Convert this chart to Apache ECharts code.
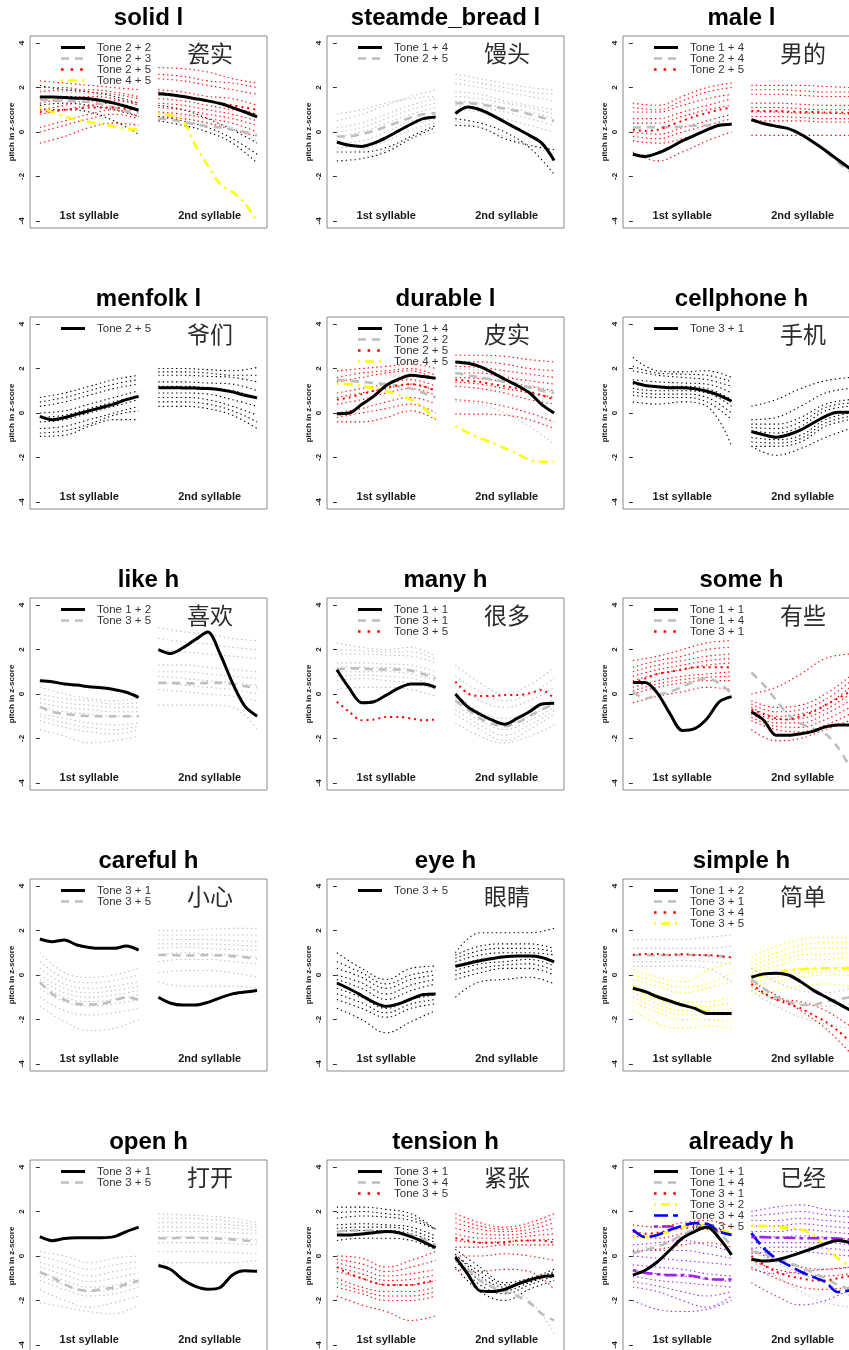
<!DOCTYPE html>
<html>
<head>
<meta charset="utf-8">
<title>tone pitch contours</title>
<script src="https://cdn.jsdelivr.net/npm/echarts@6/dist/echarts.min.js"></script>
<style>
  html, body { margin: 0; padding: 0; background: #fff; }
  #main { width: 849px; height: 1350px; }
</style>
</head>
<body>
<div id="main"></div>
<script>
// ---- panel labels ----
var panelTitles = ['solid l', 'steamde_bread l', 'male l', 'menfolk l', 'durable l', 'cellphone h',
  'like h', 'many h', 'some h', 'careful h', 'eye h', 'simple h', 'open h', 'tension h', 'already h'];
var panelHanzi = ['瓷实', '馒头', '男的', '爷们', '皮实', '手机', '喜欢', '很多', '有些', '小心', '眼睛', '简单', '打开', '紧张', '已经'];
var yTicks = [-4, -2, 0, 2, 4];

// ---- per panel data: tones, mean contours [1st syll, 2nd syll], token contours ----
var solidTones = ['Tone 2 + 2', 'Tone 2 + 3', 'Tone 2 + 5', 'Tone 4 + 5'];
var solidMean = [
  [[1.58,1.57,1.55,1.52,1.5,1.42,1.3,1.15,0.98], [1.72,1.68,1.6,1.5,1.4,1.28,1.1,0.9,0.68]],
  [[1.45,1.42,1.4,1.38,1.35,1.25,1.1,0.95,0.85], [0.6,0.55,0.45,0.35,0.25,0.2,0.1,0.0,-0.15]],
  [[0.9,0.95,1.0,1.05,1.1,1.1,1.1,1.05,1.0], [1.7,1.65,1.6,1.5,1.4,1.3,1.2,1.1,1.0]],
  [[1.1,0.9,0.7,0.55,0.45,0.35,0.25,0.15,0.1], [0.83,0.75,0.5,-0.6,-1.5,-2.35,-2.7,-3.2,-4.05]]
];
var solidTokens = [
  [[[2.1,1.9,1.8,1.6,1.3],[1.6,1.6,1.5,1.3,1.0],[1.2,1.3,1.2,1.0,0.7],[1.0,1.0,0.9,0.5,-0.1]],
   [[1.8,1.6,1.4,1.1,0.8],[1.2,1.0,0.6,0.1,-0.5],[0.7,0.5,0.2,-0.3,-1.0],[0.5,0.3,0.0,-0.5,-1.4]]],
  [[[1.9,1.8,1.7,1.5,1.2]], [[0.9,0.7,0.4,0.2,-0.4]]],
  [[[2.3,2.2,2.1,2.0,1.9],[2.0,2.0,1.8,1.7,1.5],[1.8,1.9,1.9,1.8,1.6],[1.3,1.5,1.6,1.5,1.2],[1.0,1.2,1.4,1.4,1.3],[0.8,1.0,1.2,1.3,1.0],[0.2,0.5,0.8,1.0,0.7],[0.0,0.3,0.6,0.8,0.6],[-0.5,-0.2,0.2,0.4,0.3]],
   [[2.9,2.85,2.7,2.4,2.2],[2.6,2.5,2.3,2.2,2.0],[2.4,2.3,2.1,1.9,1.7],[1.9,1.8,1.6,1.5,1.2],[1.5,1.4,1.2,1.0,0.8],[1.3,1.2,1.0,0.8,0.5],[1.1,1.0,0.8,0.6,0.3],[0.9,0.8,0.6,0.4,0.0],[0.7,0.6,0.4,0.1,-0.2]]],
  [[], []]
];

var steamedTones = ['Tone 1 + 4', 'Tone 2 + 5'];
var steamedMean = [
  [[-0.45,-0.6,-0.65,-0.5,-0.25,0.05,0.35,0.6,0.68], [0.83,1.12,1.0,0.75,0.45,0.15,-0.15,-0.5,-1.28]],
  [[-0.2,-0.2,-0.1,0.05,0.25,0.45,0.65,0.8,0.85], [1.3,1.3,1.25,1.15,1.05,0.95,0.8,0.65,0.5]]
];
var steamedTokens = [
  [[[-0.9,-0.9,-0.7,-0.2,0.3],[-1.3,-1.2,-0.9,-0.3,0.2]], [[0.3,0.2,-0.3,-0.6,-0.8],[0.6,0.4,0.0,-0.7,-1.9]]],
  [[[0.5,0.8,1.2,1.6,1.9],[0.8,1.0,1.3,1.5,1.6],[0.2,0.4,0.8,1.2,1.5],[0.0,0.2,0.6,1.0,1.3],[-0.2,0.0,0.4,0.8,1.1],[-0.5,-0.4,0.0,0.5,0.7],[-0.7,-0.6,-0.2,0.3,0.6],[-0.9,-0.8,-0.4,0.1,0.4],[-1.35,-1.2,-0.8,-0.3,0.0]],
   [[2.6,2.4,2.2,2.0,1.9],[2.4,2.2,2.0,1.8,1.7],[2.2,2.0,1.8,1.6,1.4],[1.8,1.7,1.4,1.2,1.0],[1.6,1.5,1.3,1.1,0.8],[1.4,1.3,1.1,0.9,0.6],[1.2,1.1,0.9,0.6,0.3],[1.0,0.9,0.6,0.3,0.0],[0.5,0.2,-0.2,-0.6,-1.0]]]
];

var maleTones = ['Tone 1 + 4', 'Tone 2 + 4', 'Tone 2 + 5'];
var maleMean = [
  [[-1.0,-1.1,-0.95,-0.7,-0.4,-0.15,0.1,0.3,0.35], [0.56,0.38,0.26,0.15,-0.1,-0.45,-0.83,-1.25,-1.65]],
  [[0.2,0.22,0.22,0.22,0.25,0.28,0.3,0.33,0.35], [0.55,0.4,0.28,0.15,-0.1,-0.45,-0.85,-1.35,-1.8]],
  [[0.1,0.05,0.1,0.3,0.5,0.7,0.85,1.0,1.1], [0.95,0.95,0.95,0.92,0.9,0.9,0.88,0.88,0.85]]
];
var maleTokens = [
  [[], []],
  [[], []],
  [[[1.3,1.2,1.6,2.0,2.2],[1.1,1.0,1.4,1.8,2.0],[0.9,0.9,1.2,1.5,1.7],[0.6,0.6,0.9,1.2,1.5],[0.4,0.4,0.7,1.0,1.2],[0.0,-0.1,0.2,0.5,0.8],[-0.2,-0.3,0.0,0.3,0.6],[-0.4,-0.5,-0.3,0.1,0.4],[-0.9,-1.3,-0.9,-0.4,0.0]],
   [[2.1,2.1,2.1,2.05,2.0],[1.9,1.9,1.85,1.8,1.8],[1.7,1.7,1.65,1.6,1.6],[1.3,1.3,1.25,1.2,1.2],[1.1,1.1,1.05,1.0,1.0],[0.9,0.9,0.85,0.85,0.8],[0.7,0.7,0.65,0.6,0.6],[0.5,0.5,0.5,0.45,0.45],[-0.15,-0.15,-0.15,-0.15,-0.15]]]
];

var menfolkTones = ['Tone 2 + 5'];
var menfolkMean = [
  [[-0.15,-0.3,-0.2,-0.05,0.1,0.25,0.4,0.6,0.75], [1.14,1.14,1.13,1.12,1.1,1.05,0.95,0.8,0.68]]
];
var menfolkTokens = [
  [[[0.7,0.9,1.2,1.5,1.7],[0.5,0.7,1.0,1.3,1.5],[0.3,0.5,0.8,1.1,1.3],[0.0,0.1,0.4,0.7,1.0],[-0.2,-0.1,0.2,0.5,0.8],[-0.4,-0.3,0.0,0.3,0.6],[-0.7,-0.6,-0.3,0.0,0.3],[-0.9,-0.8,-0.5,-0.1,0.1],[-1.05,-1.0,-0.6,-0.3,-0.3]],
   [[2.0,2.0,1.95,1.9,2.05],[1.85,1.85,1.8,1.7,1.7],[1.7,1.7,1.65,1.6,1.4],[1.4,1.4,1.35,1.3,1.0],[1.2,1.2,1.15,1.0,0.7],[0.9,0.9,0.85,0.6,0.3],[0.7,0.7,0.6,0.3,-0.1],[0.5,0.5,0.4,0.1,-0.4],[0.3,0.3,0.2,-0.1,-0.7]]]
];

var durableTones = ['Tone 1 + 4', 'Tone 2 + 2', 'Tone 2 + 5', 'Tone 4 + 5'];
var durableMean = [
  [[-0.03,0.0,0.38,0.76,1.24,1.52,1.7,1.64,1.56], [2.3,2.24,2.09,1.82,1.52,1.24,0.91,0.38,0.0]],
  [[1.5,1.45,1.4,1.35,1.3,1.2,1.1,0.9,0.7], [1.8,1.7,1.6,1.5,1.4,1.3,1.15,1.0,0.9]],
  [[0.6,0.7,0.85,1.0,1.15,1.25,1.3,1.2,1.0], [1.5,1.45,1.4,1.3,1.2,1.1,0.95,0.8,0.6]],
  [[1.33,1.3,1.22,1.12,0.98,0.82,0.6,0.23,-0.27], [-0.6,-0.88,-1.14,-1.33,-1.59,-1.82,-2.12,-2.2,-2.2]]
];
var durableTokens = [
  [[], []],
  [[[1.9,1.8,1.7,1.5,1.0]], [[2.0,1.9,1.7,1.3,0.9],[0.5,0.4,0.0,-0.6,-1.4]]],
  [[[1.9,2.0,2.1,2.2,2.0],[1.6,1.8,1.9,2.0,1.7],[1.4,1.6,1.8,1.9,1.5],[0.9,1.1,1.3,1.5,1.2],[0.7,0.9,1.1,1.3,1.0],[0.4,0.6,0.9,1.1,0.8],[0.0,0.2,0.5,0.7,0.4],[-0.2,0.0,0.2,0.4,0.0],[-0.4,-0.4,-0.2,0.1,-0.3]],
   [[2.6,2.6,2.55,2.4,2.3],[2.3,2.3,2.2,2.0,1.9],[2.1,2.05,1.9,1.75,1.6],[1.8,1.8,1.6,1.45,1.3],[1.6,1.55,1.4,1.2,1.0],[1.4,1.3,1.1,0.9,0.7],[1.2,1.1,0.9,0.6,0.4],[0.6,0.5,0.3,0.0,-0.4],[-0.05,-0.05,-0.1,-0.3,-0.7]]],
  [[], []]
];

var cellphoneTones = ['Tone 3 + 1'];
var cellphoneMean = [
  [[1.39,1.24,1.18,1.14,1.14,1.09,0.98,0.79,0.53], [-0.83,-0.98,-1.09,-0.98,-0.76,-0.45,-0.15,0.03,0.03]]
];
var cellphoneTokens = [
  [[[2.5,1.9,1.85,1.9,1.6],[2.1,1.8,1.75,1.7,1.4],[1.9,1.7,1.6,1.5,1.2],[1.5,1.4,1.35,1.3,0.9],[1.3,1.2,1.2,1.1,0.6],[1.1,1.0,1.0,0.9,0.3],[0.95,0.85,0.85,0.7,0.0],[0.8,0.7,0.7,0.5,-0.3],[0.5,0.4,0.5,0.3,-1.5]],
   [[0.3,0.6,1.1,1.45,1.6],[-0.3,-0.2,0.3,0.9,1.1],[-0.5,-0.5,-0.2,0.4,0.6],[-0.65,-0.7,-0.4,0.25,0.45],[-0.8,-0.9,-0.6,0.1,0.3],[-1.1,-1.2,-1.0,-0.3,0.0],[-1.3,-1.35,-1.15,-0.45,-0.15],[-1.5,-1.5,-1.3,-0.6,-0.3],[-1.5,-1.9,-1.6,-1.1,-0.7]]]
];

var likeTones = ['Tone 1 + 2', 'Tone 3 + 5'];
var likeMean = [
  [[0.6,0.55,0.45,0.4,0.33,0.28,0.2,0.08,-0.15], [2.0,1.82,2.08,2.45,2.79,1.8,0.5,-0.55,-1.0]],
  [[-0.58,-0.8,-0.9,-0.95,-1.0,-1.0,-1.0,-1.0,-1.0], [0.5,0.5,0.48,0.48,0.5,0.5,0.45,0.35,0.3]]
];
var likeTokens = [
  [[], []],
  [[[0.3,0.0,-0.2,-0.3,-0.2],[0.0,-0.2,-0.3,-0.45,-0.4],[-0.2,-0.4,-0.5,-0.6,-0.6],[-0.4,-0.6,-0.7,-0.8,-0.8],[-0.6,-0.8,-0.9,-1.0,-1.0],[-0.9,-1.1,-1.3,-1.4,-1.3],[-1.0,-1.3,-1.5,-1.6,-1.45],[-1.2,-1.5,-1.7,-1.8,-1.6],[-1.6,-1.9,-2.2,-2.1,-1.9]],
   [[3.0,2.8,2.7,2.5,2.4],[2.5,2.35,2.25,2.1,2.0],[2.0,1.9,1.8,1.7,1.6],[1.3,1.3,1.2,1.1,1.0],[1.0,1.0,0.9,0.8,0.7],[0.8,0.7,0.6,0.5,0.4],[0.5,0.4,0.3,0.2,0.0],[0.2,0.1,0.0,-0.1,-0.3],[-0.5,-0.5,-0.5,-0.6,-1.6]]]
];

var manyTones = ['Tone 1 + 1', 'Tone 3 + 1', 'Tone 3 + 5'];
var manyMean = [
  [[1.09,0.26,-0.39,-0.35,-0.05,0.26,0.45,0.45,0.3], [0.0,-0.58,-0.91,-1.18,-1.36,-1.1,-0.8,-0.45,-0.42]],
  [[1.1,1.15,1.15,1.1,1.1,1.1,1.05,0.9,0.7], [-0.3,-0.7,-1.1,-1.35,-1.45,-1.3,-1.0,-0.7,-0.45]],
  [[-0.35,-0.8,-1.18,-1.15,-1.03,-1.03,-1.1,-1.18,-1.15], [0.56,0.03,-0.09,-0.09,-0.05,-0.05,0.03,0.18,-0.2]]
];
var manyTokens = [
  [[], []],
  [[[2.3,2.1,2.0,2.1,1.7],[2.0,1.95,1.9,1.9,1.55],[1.8,1.8,1.75,1.7,1.4],[1.4,1.4,1.35,1.3,1.0],[1.2,1.2,1.2,1.1,0.8],[1.0,1.0,1.0,0.9,0.6],[0.8,0.85,0.8,0.7,0.4],[0.6,0.7,0.6,0.5,0.2],[0.2,0.3,0.3,0.2,-0.1]],
   [[1.3,0.5,0.0,0.4,1.2],[0.8,0.1,-0.3,0.0,0.7],[0.4,-0.3,-0.6,-0.3,0.3],[0.0,-0.8,-1.1,-0.8,-0.2],[-0.2,-1.0,-1.35,-1.0,-0.4],[-0.5,-1.2,-1.6,-1.2,-0.6],[-0.7,-1.4,-1.85,-1.4,-0.75],[-0.9,-1.6,-2.1,-1.6,-0.9],[-1.3,-1.9,-2.2,-1.9,-1.4]]],
  [[], []]
];

var someTones = ['Tone 1 + 1', 'Tone 1 + 4', 'Tone 3 + 1'];
var someMean = [
  [[0.52,0.52,0.03,-0.88,-1.64,-1.56,-1.11,-0.35,-0.12], [-0.8,-1.18,-1.86,-1.86,-1.79,-1.68,-1.48,-1.4,-1.4]],
  [[0.1,-0.2,-0.05,0.1,0.33,0.56,0.71,0.48,0.03], [0.97,0.41,-0.27,-0.95,-1.33,-1.56,-1.79,-2.4,-3.3]],
  [[0.5,0.7,0.9,1.0,1.1,1.2,1.2,1.2,1.2], [-0.7,-0.9,-1.1,-1.15,-1.0,-0.8,-0.5,-0.2,0.1]]
];
var someTokens = [
  [[], []],
  [[], []],
  [[[1.5,1.7,2.0,2.3,2.4],[1.2,1.5,1.7,2.0,2.1],[1.0,1.3,1.5,1.7,1.8],[0.8,1.1,1.3,1.5,1.6],[0.6,0.9,1.1,1.3,1.4],[0.3,0.6,0.8,0.9,1.0],[0.15,0.45,0.65,0.75,0.8],[0.0,0.3,0.5,0.6,0.6],[-0.4,-0.1,0.1,0.3,0.2]],
   [[0.0,0.3,0.9,1.6,1.8],[-0.3,-0.6,-0.5,0.0,0.8],[-0.45,-0.8,-0.7,-0.25,0.55],[-0.6,-1.0,-0.9,-0.5,0.3],[-0.75,-1.15,-1.1,-0.7,0.0],[-0.9,-1.3,-1.3,-0.9,-0.3],[-1.05,-1.45,-1.5,-1.15,-0.6],[-1.2,-1.6,-1.7,-1.4,-0.9],[-1.6,-2.1,-2.0,-1.6,-1.2]]]
];

var carefulTones = ['Tone 3 + 1', 'Tone 3 + 5'];
var carefulMean = [
  [[1.62,1.5,1.58,1.35,1.24,1.2,1.2,1.3,1.12], [-1.0,-1.27,-1.35,-1.35,-1.23,-1.03,-0.85,-0.77,-0.7]],
  [[-0.32,-0.85,-1.12,-1.3,-1.33,-1.3,-1.15,-1.0,-1.12], [0.9,0.9,0.88,0.88,0.9,0.88,0.85,0.8,0.72]]
];
var carefulTokens = [
  [[], []],
  [[[1.0,0.1,-0.1,0.0,0.3],[0.6,-0.15,-0.35,-0.25,0.0],[0.3,-0.4,-0.6,-0.5,-0.3],[0.0,-0.6,-0.8,-0.7,-0.5],[-0.2,-0.8,-1.0,-0.9,-0.7],[-0.4,-1.0,-1.2,-1.1,-0.9],[-0.6,-1.2,-1.4,-1.3,-1.1],[-1.0,-1.6,-1.8,-1.7,-1.5],[-1.4,-2.1,-2.5,-2.4,-2.0]],
   [[2.0,2.0,2.05,2.1,2.1],[1.8,1.8,1.8,1.8,1.8],[1.6,1.6,1.6,1.55,1.5],[1.4,1.4,1.4,1.35,1.3],[1.2,1.25,1.2,1.15,1.1],[0.9,1.0,0.95,0.9,0.8],[0.6,0.7,0.7,0.6,0.5],[0.1,0.2,0.2,0.1,-0.1],[-0.3,-0.5,-0.5,-0.5,-0.6]]]
];

var eyeTones = ['Tone 3 + 5'];
var eyeMean = [
  [[-0.36,-0.62,-0.92,-1.23,-1.41,-1.3,-1.08,-0.88,-0.85], [0.39,0.52,0.64,0.74,0.82,0.85,0.85,0.79,0.59]]
];
var eyeTokens = [
  [[[1.0,0.3,-0.2,0.3,0.4],[0.6,0.1,-0.4,0.0,0.2],[0.3,-0.1,-0.6,-0.2,0.0],[0.0,-0.35,-0.85,-0.45,-0.2],[-0.2,-0.6,-1.1,-0.7,-0.4],[-0.6,-1.0,-1.5,-1.1,-0.9],[-0.85,-1.25,-1.7,-1.3,-1.1],[-1.1,-1.5,-1.9,-1.5,-1.3],[-1.5,-2.0,-2.6,-2.1,-1.6]],
   [[1.0,1.9,1.9,1.9,2.1],[0.9,1.3,1.4,1.4,1.2],[0.75,1.1,1.2,1.2,1.05],[0.6,0.9,1.0,1.0,0.9],[0.4,0.7,0.8,0.85,0.65],[0.2,0.5,0.6,0.7,0.4],[0.0,0.3,0.45,0.5,0.2],[-0.2,0.1,0.3,0.3,0.0],[-1.0,-0.3,-0.2,-0.1,-0.4]]]
];

var simpleTones = ['Tone 1 + 2', 'Tone 3 + 1', 'Tone 3 + 4', 'Tone 3 + 5'];
var simpleMean = [
  [[-0.6,-0.75,-0.98,-1.17,-1.35,-1.5,-1.73,-1.73,-1.73], [-0.1,0.05,0.08,0.0,-0.3,-0.68,-0.98,-1.28,-1.58]],
  [[0.9,0.9,0.88,0.9,0.9,0.9,0.88,0.85,0.75], [-0.2,-0.6,-1.0,-1.2,-1.35,-1.35,-1.2,-1.1,-1.0]],
  [[0.9,0.95,0.95,0.9,0.95,0.9,0.9,0.85,0.8], [-0.4,-0.8,-1.1,-1.3,-1.5,-1.8,-2.1,-2.5,-3.0]],
  [[-0.5,-0.8,-1.0,-1.2,-1.35,-1.5,-1.65,-1.75,-1.75], [-0.1,0.0,0.1,0.2,0.25,0.3,0.3,0.3,0.3]]
];
var simpleTokens = [
  [[], []],
  [[[1.6,1.6,1.6,1.7,1.8],[1.2,1.2,1.2,1.2,1.3],[0.6,0.6,0.65,0.6,0.5],[0.4,0.4,0.4,0.3,-0.3]],
   [[0.3,-0.3,-0.7,-0.8,-0.6],[-0.3,-0.9,-1.3,-1.4,-1.3],[-0.7,-1.4,-1.9,-2.2,-2.4]]],
  [[], [[-0.3,-0.9,-1.6,-2.4,-3.5],[-0.5,-1.1,-1.2,-1.6,-2.3]]],
  [[[0.2,-0.1,-0.3,0.2,0.6],[0.0,-0.3,-0.55,-0.4,0.1],[-0.2,-0.5,-0.8,-0.6,-0.3],[-0.5,-0.9,-1.2,-1.2,-1.0],[-0.65,-1.1,-1.4,-1.4,-1.25],[-0.8,-1.3,-1.6,-1.6,-1.5],[-1.0,-1.5,-1.8,-1.8,-1.8],[-1.2,-1.7,-2.0,-2.0,-2.1],[-1.6,-2.2,-2.4,-2.3,-2.4]],
   [[0.8,1.3,1.6,1.7,1.7],[0.6,1.0,1.35,1.45,1.45],[0.4,0.8,1.1,1.2,1.2],[0.25,0.6,0.9,0.95,1.0],[0.1,0.4,0.7,0.7,0.8],[-0.2,0.1,0.3,0.3,0.4],[-0.35,-0.1,0.1,0.15,0.2],[-0.5,-0.3,-0.1,0.0,0.0],[-0.9,-0.7,-0.5,-0.4,-0.5]]]
];

var openTones = ['Tone 3 + 1', 'Tone 3 + 5'];
var openMean = [
  [[0.87,0.69,0.79,0.82,0.82,0.82,0.87,1.1,1.3], [-0.43,-0.61,-1.07,-1.37,-1.5,-1.42,-0.85,-0.66,-0.69]],
  [[-0.73,-0.96,-1.27,-1.5,-1.57,-1.5,-1.42,-1.27,-1.11], [0.8,0.8,0.82,0.82,0.8,0.78,0.75,0.7,0.65]]
];
var openTokens = [
  [[], []],
  [[[0.2,0.0,-0.3,-0.1,0.0],[0.0,-0.3,-0.6,-0.4,-0.25],[-0.3,-0.6,-0.9,-0.7,-0.5],[-0.5,-0.85,-1.15,-1.0,-0.75],[-0.7,-1.1,-1.4,-1.3,-1.0],[-0.9,-1.3,-1.6,-1.5,-1.2],[-1.1,-1.5,-1.8,-1.7,-1.4],[-1.5,-2.0,-2.3,-2.1,-1.8],[-2.1,-2.3,-2.5,-2.6,-2.2]],
   [[1.9,1.85,1.8,1.7,1.5],[1.7,1.7,1.65,1.55,1.4],[1.5,1.5,1.45,1.4,1.3],[1.3,1.3,1.3,1.25,1.15],[1.1,1.1,1.1,1.05,1.0],[0.85,0.85,0.85,0.8,0.75],[0.6,0.6,0.6,0.55,0.5],[0.2,0.2,0.2,0.15,0.1],[-0.3,-0.3,-0.3,-0.3,-0.2]]]
];

var tensionTones = ['Tone 3 + 1', 'Tone 3 + 4', 'Tone 3 + 5'];
var tensionMean = [
  [[0.95,0.95,0.99,1.05,1.1,1.05,0.87,0.64,0.38], [-0.05,-0.81,-1.57,-1.6,-1.5,-1.27,-1.08,-0.93,-0.89]],
  [[1.1,1.15,1.15,1.15,1.1,1.05,0.95,0.75,0.5], [-0.2,-0.6,-1.1,-1.4,-1.6,-1.8,-2.1,-2.6,-2.9]],
  [[-0.5,-0.8,-1.0,-1.2,-1.3,-1.3,-1.3,-1.2,-1.1], [0.8,0.7,0.6,0.6,0.6,0.7,0.7,0.7,0.6]]
];
var tensionTokens = [
  [[[2.2,2.2,2.1,1.9,1.2],[1.95,2.0,1.9,1.75,1.2],[1.7,1.8,1.75,1.6,1.2],[1.4,1.45,1.4,1.3,0.9],[1.25,1.3,1.3,1.15,0.75],[1.1,1.15,1.15,1.0,0.6],[0.7,0.8,0.8,0.7,0.3]],
   [[0.1,-0.9,-1.4,-1.1,-0.7],[-0.1,-1.1,-1.55,-1.2,-0.8],[-0.2,-1.3,-1.7,-1.3,-0.9],[-0.5,-1.6,-2.0,-1.5,-1.1],[0.0,-0.7,-1.3,-1.15,-0.75],[0.3,-0.5,-1.2,-1.0,-0.6]]],
  [[], [[0.0,-1.0,-1.5,-2.0,-3.5]]],
  [[[0.0,-0.1,-0.5,-0.2,0.2],[-0.15,-0.35,-0.7,-0.5,-0.2],[-0.3,-0.6,-0.9,-0.8,-0.6],[-0.5,-0.8,-1.1,-1.05,-0.85],[-0.7,-1.0,-1.3,-1.3,-1.1],[-1.0,-1.4,-1.6,-1.6,-1.4],[-1.2,-1.55,-1.8,-1.8,-1.6],[-1.4,-1.7,-2.0,-2.0,-1.8],[-1.8,-2.2,-2.5,-2.9,-2.7]],
   [[1.9,1.5,1.3,1.5,1.9],[1.7,1.35,1.2,1.35,1.7],[1.5,1.2,1.1,1.2,1.5],[1.25,1.0,0.95,1.05,1.25],[1.0,0.8,0.8,0.9,1.0],[0.7,0.6,0.65,0.7,0.75],[0.4,0.4,0.5,0.5,0.5],[0.0,0.0,0.1,0.0,-0.2],[-0.6,-0.7,-0.6,-0.7,-1.5]]]
];

var alreadyTones = ['Tone 1 + 1', 'Tone 1 + 4', 'Tone 3 + 1', 'Tone 3 + 2', 'Tone 3 + 4', 'Tone 3 + 5'];
var alreadyMean = [
  [[-0.86,-0.64,-0.26,0.27,0.8,1.1,1.3,0.8,0.05], [-0.15,-0.23,-0.18,-0.03,0.15,0.35,0.55,0.7,0.6]],
  [[0.12,0.27,0.42,0.65,0.95,1.18,1.26,1.03,0.42], [0.2,0.1,-0.1,-0.3,-0.5,-0.75,-1.0,-1.3,-1.5]],
  [[1.1,1.0,1.05,1.15,1.25,1.3,1.25,1.1,0.95], [0.0,-0.4,-0.7,-0.9,-1.0,-1.1,-1.1,-1.0,-0.9]],
  [[0.85,0.85,0.95,1.1,1.3,1.4,1.35,1.2,1.0], [1.36,1.35,1.3,1.27,1.2,0.95,0.4,-0.1,-0.5]],
  [[1.18,0.85,0.95,1.18,1.36,1.48,1.45,1.1,0.95], [1.03,0.35,-0.11,-0.41,-0.71,-0.94,-1.17,-1.62,-1.55]],
  [[-0.64,-0.76,-0.82,-0.86,-0.86,-0.91,-1.02,-1.06,-1.06], [0.85,0.85,0.82,0.82,0.8,0.8,0.8,0.78,0.75]]
];
var alreadyTokens = [
  [[], []],
  [[[0.3,0.5,0.9,1.3,0.9]], [[0.2,-0.3,-0.8,-1.2,-1.8],[-0.3,-0.9,-1.6,-2.1,-2.3]]],
  [[[1.4,1.3,1.5,1.6,1.3],[0.9,0.8,1.0,1.2,1.0],[0.2,0.3,0.5,0.6,0.4]],
   [[-0.2,-0.6,-0.8,-0.9,-0.8],[-0.5,-1.0,-1.4,-1.5,-1.4],[0.3,-0.2,-0.5,-0.6,-0.5]]],
  [[], []],
  [[], []],
  [[[0.5,0.6,0.7,0.5,0.2],[0.25,0.25,0.25,0.1,-0.1],[0.0,-0.1,-0.2,-0.3,-0.4],[-0.4,-0.5,-0.6,-0.8,-0.9],[-0.65,-0.8,-0.9,-1.05,-1.15],[-0.9,-1.1,-1.2,-1.3,-1.4],[-1.15,-1.35,-1.6,-1.8,-1.6],[-1.4,-1.6,-2.0,-2.3,-1.8],[-2.0,-2.4,-2.5,-2.4,-2.0]],
   [[2.0,2.2,2.3,2.1,2.0],[1.8,1.9,2.0,1.85,1.75],[1.6,1.6,1.7,1.6,1.5],[1.35,1.35,1.45,1.35,1.25],[1.1,1.1,1.2,1.1,1.0],[0.85,0.85,0.9,0.85,0.75],[0.6,0.6,0.6,0.6,0.5],[0.35,0.4,0.4,0.35,0.25],[0.1,0.2,0.2,0.1,0.0],[-0.6,-0.8,-0.7,-0.6,-0.5],[-1.2,-1.8,-2.2,-2.0,-1.5]]]
];

var panels = [
  { tones: solidTones, mean: solidMean, tokens: solidTokens },
  { tones: steamedTones, mean: steamedMean, tokens: steamedTokens },
  { tones: maleTones, mean: maleMean, tokens: maleTokens },
  { tones: menfolkTones, mean: menfolkMean, tokens: menfolkTokens },
  { tones: durableTones, mean: durableMean, tokens: durableTokens },
  { tones: cellphoneTones, mean: cellphoneMean, tokens: cellphoneTokens },
  { tones: likeTones, mean: likeMean, tokens: likeTokens },
  { tones: manyTones, mean: manyMean, tokens: manyTokens },
  { tones: someTones, mean: someMean, tokens: someTokens },
  { tones: carefulTones, mean: carefulMean, tokens: carefulTokens },
  { tones: eyeTones, mean: eyeMean, tokens: eyeTokens },
  { tones: simpleTones, mean: simpleMean, tokens: simpleTokens },
  { tones: openTones, mean: openMean, tokens: openTokens },
  { tones: tensionTones, mean: tensionMean, tokens: tensionTokens },
  { tones: alreadyTones, mean: alreadyMean, tokens: alreadyTokens }
];

// ---- styles / layout ----
var groupColors = ['#000000', '#BEBEBE', '#FF0000', '#FFFF00', '#0000FF', '#A020F0'];
var groupDash = ['solid', [8, 6], [2, 4], [2, 5, 9, 5], [14, 5], [4, 4, 12, 4]];
var groupWidth = [3, 2.6, 2, 2.6, 2.6, 2.6];
var colLeft = [30, 327, 623];
var boxW = 237, boxH = 192, rowStep = 281, firstTop = 36;
var syllStart = [0, 1.2];
var latin = '"Liberation Sans", Arial, sans-serif';

var myChart = echarts.init(document.getElementById('main'), null, { renderer: 'canvas' });

function curve(vals, x0) {
  return vals.map(function (v, i) { return [x0 + i / (vals.length - 1), v]; });
}
function joinCurves(list, x0, out) {
  list.forEach(function (c) {
    if (out.length) out.push([x0 + 0.5, '-']);
    curve(c, x0).forEach(function (p) { out.push(p); });
  });
  return out;
}

var grids = [], xAxes = [], yAxes = [], series = [], graphics = [];

panels.forEach(function (pn, p) {
  var col = p % 3, row = Math.floor(p / 3);
  var L = colLeft[col], T = firstTop + row * rowStep;

  grids.push({
    left: L, top: T, width: boxW, height: boxH,
    show: true, borderColor: '#8a8a8a', borderWidth: 1, backgroundColor: 'transparent',
    containLabel: false, outerBoundsMode: 'none'
  });
  xAxes.push({
    gridIndex: p, type: 'value', min: -0.1, max: 2.3,
    axisLine: { show: false }, axisTick: { show: false }, splitLine: { show: false },
    axisLabel: {
      customValues: [0.5, 1.72], inside: true, margin: 7,
      fontSize: 11, fontWeight: 'bold', color: '#1a1a1a', fontFamily: latin,
      formatter: function (v) { return v < 1 ? '1st syllable' : '2nd syllable'; }
    }
  });
  yAxes.push({
    gridIndex: p, type: 'value', min: -4.32, max: 4.32,
    name: 'pitch in z-score', nameLocation: 'middle', nameGap: 14, nameRotate: 90,
    nameTextStyle: { fontSize: 8, fontWeight: 'bold', color: '#1a1a1a', fontFamily: latin },
    axisLine: { show: false }, splitLine: { show: false },
    axisTick: { show: true, customValues: yTicks, length: 4, lineStyle: { color: '#333', width: 1 } },
    axisLabel: { customValues: yTicks, rotate: 90, margin: 4, fontSize: 8, fontWeight: 'bold', color: '#1a1a1a', fontFamily: latin }
  });

  // token clouds first
  pn.tokens.forEach(function (tk, g) {
    var data = [];
    joinCurves(tk[0], syllStart[0], data);
    joinCurves(tk[1], syllStart[1], data);
    if (!data.length) return;
    series.push({
      type: 'line', xAxisIndex: p, yAxisIndex: p, data: data,
      symbol: 'none', smooth: 0.4, silent: true, z: 2,
      lineStyle: { color: groupColors[g], width: 1.1, type: [1.4, 3] }
    });
  });
  // mean contours on top, first tone drawn last
  pn.mean.forEach(function (m, g) {
    var data = curve(m[0], syllStart[0]);
    data.push([1.1, '-']);
    curve(m[1], syllStart[1]).forEach(function (pt) { data.push(pt); });
    series.push({
      type: 'line', xAxisIndex: p, yAxisIndex: p, data: data,
      symbol: 'none', smooth: 0.3, silent: true, z: g === 0 ? 20 : 10 + g,
      lineStyle: { color: groupColors[g], width: groupWidth[g], type: groupDash[g], cap: 'butt' }
    });
  });

  // title, hanzi, legend
  graphics.push({
    type: 'text', x: L + boxW / 2, y: T - 18,
    style: { text: panelTitles[p], font: 'bold 24px ' + latin, fill: '#000', align: 'center', verticalAlign: 'middle' }
  });
  graphics.push({
    type: 'text', x: L + 180, y: T + 17,
    style: { text: panelHanzi[p], font: '23px "Noto Sans CJK SC"', fill: '#2b2b2b', align: 'center', verticalAlign: 'middle' }
  });
  pn.tones.forEach(function (name, g) {
    var y = T + 11.5 + g * 11;
    graphics.push({
      type: 'line', shape: { x1: L + 31, y1: y, x2: L + 55, y2: y },
      style: { stroke: groupColors[g], lineWidth: g === 2 ? 2.6 : groupWidth[g], lineDash: g === 0 ? null : (g === 2 ? [2.6, 7] : groupDash[g]) }
    });
    graphics.push({
      type: 'text', x: L + 67, y: y,
      style: { text: name, font: '11.5px ' + latin, fill: '#333', align: 'left', verticalAlign: 'middle' }
    });
  });
});

var option = {
  animation: false,
  backgroundColor: '#ffffff',
  grid: grids,
  xAxis: xAxes,
  yAxis: yAxes,
  series: series,
  graphic: { elements: graphics }
};
myChart.setOption(option);
</script>
</body>
</html>
